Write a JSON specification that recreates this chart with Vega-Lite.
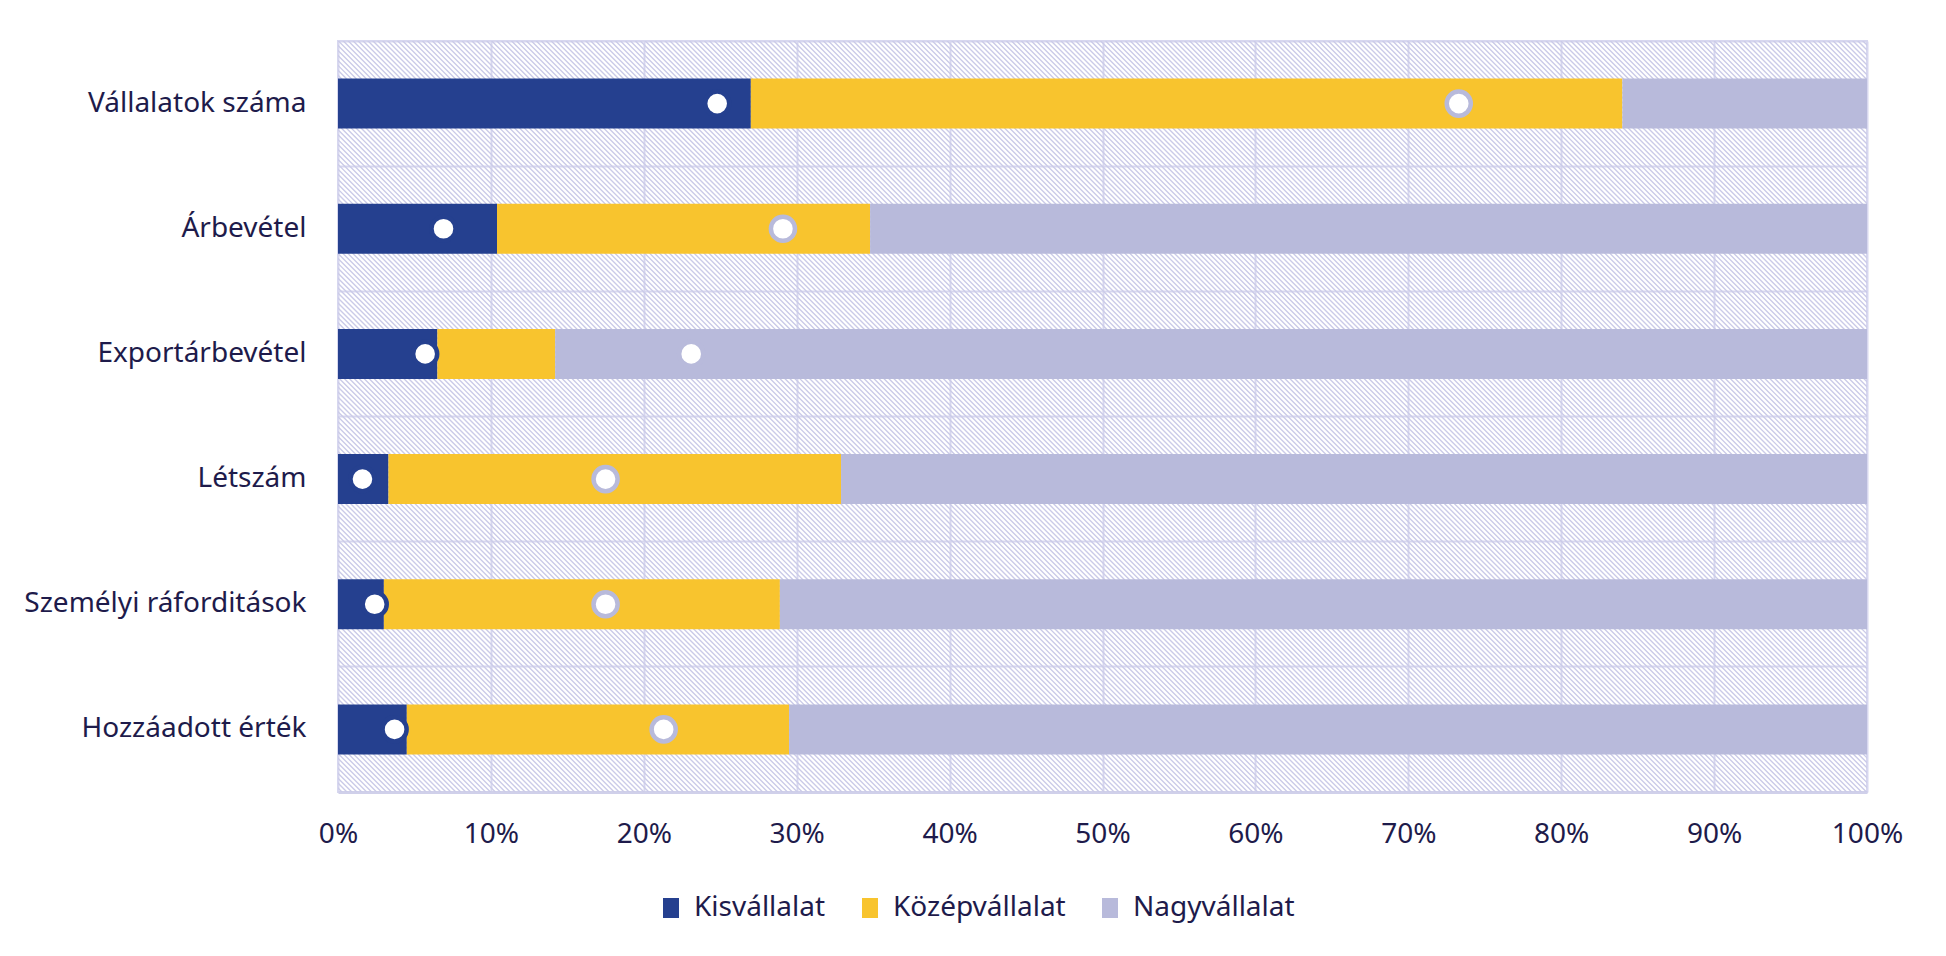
{
  "$schema": "https://vega.github.io/schema/vega-lite/v6.json",
  "width": 1529,
  "height": 751,
  "autosize": "none",
  "padding": {"left": 338, "top": 41, "right": 79, "bottom": 164},
  "background": "white",
  "config": {
    "font": "Noto Sans",
    "view": {"stroke": "#d7d7ef", "strokeWidth": 2},
    "axis": {"labelFont": "Noto Sans", "labelColor": "#1e1b4b", "labelFontSize": 28, "labelLimit": 0, "ticks": false, "title": null},
    "legend": {"labelFont": "Noto Sans", "labelColor": "#1e1b4b", "labelFontSize": 28, "labelLimit": 0}
  },
  "datasets": {
    "bars": [
      {"kategoria": "Vállalatok száma", "meret": "Kisvállalat", "arany": 0.270},
      {"kategoria": "Vállalatok száma", "meret": "Középvállalat", "arany": 0.570},
      {"kategoria": "Vállalatok száma", "meret": "Nagyvállalat", "arany": 0.160},
      {"kategoria": "Árbevétel", "meret": "Kisvállalat", "arany": 0.104},
      {"kategoria": "Árbevétel", "meret": "Középvállalat", "arany": 0.244},
      {"kategoria": "Árbevétel", "meret": "Nagyvállalat", "arany": 0.652},
      {"kategoria": "Exportárbevétel", "meret": "Kisvállalat", "arany": 0.065},
      {"kategoria": "Exportárbevétel", "meret": "Középvállalat", "arany": 0.077},
      {"kategoria": "Exportárbevétel", "meret": "Nagyvállalat", "arany": 0.858},
      {"kategoria": "Létszám", "meret": "Kisvállalat", "arany": 0.033},
      {"kategoria": "Létszám", "meret": "Középvállalat", "arany": 0.296},
      {"kategoria": "Létszám", "meret": "Nagyvállalat", "arany": 0.671},
      {"kategoria": "Személyi ráforditások", "meret": "Kisvállalat", "arany": 0.030},
      {"kategoria": "Személyi ráforditások", "meret": "Középvállalat", "arany": 0.259},
      {"kategoria": "Személyi ráforditások", "meret": "Nagyvállalat", "arany": 0.711},
      {"kategoria": "Hozzáadott érték", "meret": "Kisvállalat", "arany": 0.045},
      {"kategoria": "Hozzáadott érték", "meret": "Középvállalat", "arany": 0.250},
      {"kategoria": "Hozzáadott érték", "meret": "Nagyvállalat", "arany": 0.705}
    ],
    "pontok": [
      {"kategoria": "Vállalatok száma", "meret": "Kisvállalat", "ertek": 0.248},
      {"kategoria": "Vállalatok száma", "meret": "Középvállalat", "ertek": 0.733},
      {"kategoria": "Árbevétel", "meret": "Kisvállalat", "ertek": 0.069},
      {"kategoria": "Árbevétel", "meret": "Középvállalat", "ertek": 0.291},
      {"kategoria": "Exportárbevétel", "meret": "Kisvállalat", "ertek": 0.057},
      {"kategoria": "Exportárbevétel", "meret": "Középvállalat", "ertek": 0.231},
      {"kategoria": "Létszám", "meret": "Kisvállalat", "ertek": 0.016},
      {"kategoria": "Létszám", "meret": "Középvállalat", "ertek": 0.175},
      {"kategoria": "Személyi ráforditások", "meret": "Kisvállalat", "ertek": 0.024},
      {"kategoria": "Személyi ráforditások", "meret": "Középvállalat", "ertek": 0.175},
      {"kategoria": "Hozzáadott érték", "meret": "Kisvállalat", "ertek": 0.037},
      {"kategoria": "Hozzáadott érték", "meret": "Középvállalat", "ertek": 0.213}
    ]
  },
  "encoding": {
    "y": {
      "field": "kategoria",
      "type": "nominal",
      "sort": null,
      "scale": {"paddingInner": 0, "paddingOuter": 0},
      "axis": {"domain": false, "labelPadding": 32, "grid": true, "bandPosition": 0, "gridColor": "#d7d7ef", "gridWidth": 2}
    }
  },
  "layer": [
    {
      "data": {"values": [{}]},
      "mark": {
        "type": "point",
        "shape": "M-1,1L1,-1",
        "size": 2000000,
        "filled": false,
        "opacity": 1,
        "stroke": "#cbcbe8",
        "strokeWidth": 1800,
        "strokeDash": [1.4, 2.1],
        "strokeCap": "butt",
        "clip": true
      },
      "encoding": {"y": null}
    },
    {
      "data": {"name": "bars"},
      "mark": {"type": "bar", "height": {"band": 0.4}},
      "encoding": {
        "x": {
          "field": "arany",
          "type": "quantitative",
          "stack": "zero",
          "scale": {"domain": [0, 1], "nice": false},
          "axis": {
            "format": ".0%",
            "values": [0, 0.1, 0.2, 0.3, 0.4, 0.5, 0.6, 0.7, 0.8, 0.9, 1],
            "labelPadding": 28,
            "labelFlush": false,
            "grid": true,
            "gridColor": "#d7d7ef",
            "gridWidth": 2,
            "domain": true,
            "domainColor": "#d0d0ea",
            "domainWidth": 3
          }
        },
        "color": {
          "field": "meret",
          "type": "nominal",
          "scale": {
            "domain": ["Kisvállalat", "Középvállalat", "Nagyvállalat"],
            "range": ["#25408f", "#f8c42e", "#b8badb"]
          },
          "legend": {
            "title": null,
            "orient": "none",
            "direction": "horizontal",
            "legendX": 319,
            "legendY": 853,
            "symbolType": "M-0.8,-1H0.8V1H-0.8Z",
            "symbolSize": 400,
            "symbolStrokeWidth": 0,
            "labelOffset": 9,
            "columnPadding": 30
          }
        }
      }
    },
    {
      "data": {"name": "pontok"},
      "mark": {"type": "circle", "fill": "white", "opacity": 1, "strokeWidth": 4.5, "size": 580},
      "encoding": {
        "x": {"field": "ertek", "type": "quantitative"},
        "stroke": {
          "field": "meret",
          "type": "nominal",
          "scale": {"domain": ["Kisvállalat", "Középvállalat"], "range": ["#25408f", "#b8badb"]},
          "legend": null
        }
      }
    }
  ]
}
